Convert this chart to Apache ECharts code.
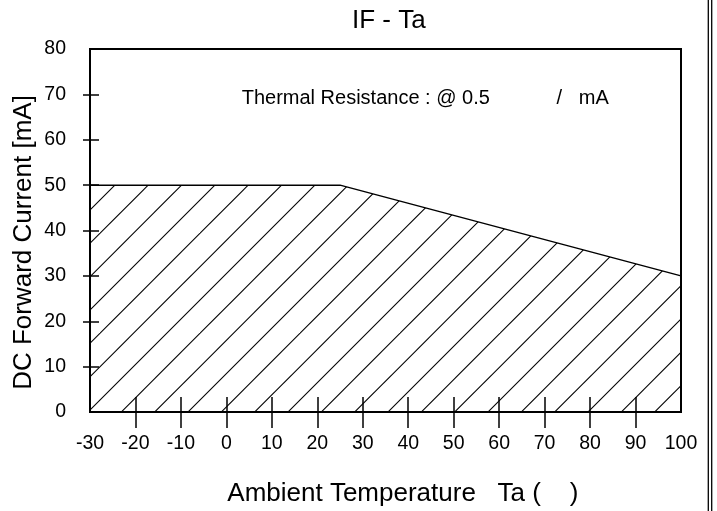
<!DOCTYPE html>
<html><head><meta charset="utf-8">
<script src="https://cdn.jsdelivr.net/npm/echarts@6/dist/echarts.min.js"></script>
<style>html,body{margin:0;padding:0;background:#fff}#c{width:717px;height:511px}</style>
</head><body><div id="c"></div>
<script>
// ---- data ----
const titleText = 'IF - Ta';
const xAxisName = 'Ambient Temperature   Ta (    )';
const yAxisName = 'DC Forward Current [mA]';
const noteText = 'Thermal Resistance : @ 0.5            /   mA';
const temperature = [-30, 25, 100];
const forwardCurrent = [50, 50, 30];
const xTicks = [-30, -20, -10, 0, 10, 20, 30, 40, 50, 60, 70, 80, 90, 100];
const yTicks = [0, 10, 20, 30, 40, 50, 60, 70, 80];

// ---- hatch pattern ----
const tile = document.createElement('canvas');
tile.width = 100; tile.height = 100;
const g = tile.getContext('2d');
g.strokeStyle = '#000'; g.lineWidth = 1.1;
for (let k = -1; k <= 7; k++) {
  const c = k * 100 / 3;
  g.beginPath(); g.moveTo(c + 20, -20); g.lineTo(-20, c + 20); g.stroke();
}

const font = "'Liberation Sans', Arial, sans-serif";
const xMin = xTicks[0], xMax = xTicks[xTicks.length - 1], xStep = xTicks[1] - xTicks[0];
const yMin = yTicks[0], yMax = yTicks[yTicks.length - 1], yStep = yTicks[1] - yTicks[0];
const black = '#000';

const chart = echarts.init(document.getElementById('c'));
chart.setOption({
  animation: false,
  backgroundColor: '#fff',
  title: { text: titleText, left: 352, top: 8, padding: 0,
    textStyle: { fontFamily: font, fontSize: 26, fontWeight: 'normal', color: black } },
  grid: { left: 90, right: 36, top: 49, bottom: 99, show: true, borderColor: black, borderWidth: 2, backgroundColor: 'transparent' },
  xAxis: [
    { type: 'value', min: xMin, max: xMax, interval: xStep, position: 'bottom',
      axisLine: { onZero: false, lineStyle: { color: black, width: 2 } },
      axisTick: { inside: true, length: 15, lineStyle: { color: black, width: 1.5 } },
      axisLabel: { margin: 22, color: black, fontSize: 19.5, fontFamily: font, showMinLabel: true, showMaxLabel: true },
      splitLine: { show: false } },
    { type: 'value', min: xMin, max: xMax, interval: xStep, position: 'bottom',
      axisLine: { show: false, onZero: false },
      axisTick: { inside: false, length: 16, customValues: xTicks.slice(1, -1), lineStyle: { color: black, width: 1.5 } },
      axisLabel: { show: false }, splitLine: { show: false } }
  ],
  yAxis: [
    { type: 'value', min: yMin, max: yMax, interval: yStep, position: 'left',
      axisLine: { show: true, onZero: false, lineStyle: { color: black, width: 2 } },
      axisTick: { show: true, inside: true, length: 9, lineStyle: { color: black, width: 1.5 } },
      axisLabel: { margin: 24, color: black, fontSize: 19.5, fontFamily: font, showMinLabel: true, showMaxLabel: true },
      splitLine: { show: false } },
    { type: 'value', min: yMin, max: yMax, interval: yStep, position: 'left',
      axisLine: { show: false, onZero: false },
      axisTick: { show: true, inside: false, length: 7, customValues: yTicks.slice(1, -1), lineStyle: { color: black, width: 1.5 } },
      axisLabel: { show: false }, splitLine: { show: false } }
  ],
  graphic: [
    { type: 'text', x: 241.7, y: 98.3, silent: true,
      style: { text: noteText, font: '20px ' + font, fill: black, align: 'left', verticalAlign: 'middle', textAlign: 'left', textVerticalAlign: 'middle' } },
    { type: 'text', x: 227.3, y: 494, silent: true,
      style: { text: xAxisName, font: '26px ' + font, fill: black, align: 'left', verticalAlign: 'middle', textAlign: 'left', textVerticalAlign: 'middle' } },
    { type: 'text', x: 24.2, y: 242.5, rotation: Math.PI / 2, silent: true,
      style: { text: yAxisName, font: '26px ' + font, fill: black, align: 'center', verticalAlign: 'middle', textAlign: 'center', textVerticalAlign: 'middle' } },
    { type: 'line', silent: true, shape: { x1: 708.3, y1: 0, x2: 708.3, y2: 511 }, style: { stroke: black, lineWidth: 1.3 } },
    { type: 'line', silent: true, shape: { x1: 711.7, y1: 0, x2: 711.7, y2: 511 }, style: { stroke: black, lineWidth: 1.3 } }
  ],
  series: [{
    type: 'line', xAxisIndex: 0, yAxisIndex: 0, silent: true,
    data: temperature.map((t, i) => [t, forwardCurrent[i]]),
    symbol: 'none',
    lineStyle: { color: black, width: 1.5 },
    areaStyle: { color: { image: tile, repeat: 'repeat' }, opacity: 1 }
  }]
});
</script>
</body></html>
